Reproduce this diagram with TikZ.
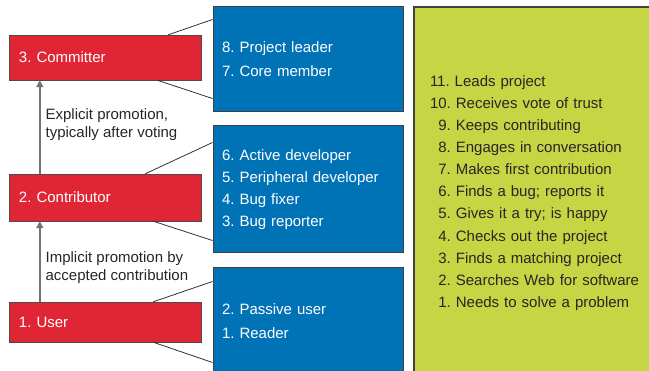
\documentclass[tikz,border=0pt]{standalone}
\usepackage{fontspec}
\setmainfont{Liberation Sans}
\usetikzlibrary{arrows.meta}
\definecolor{roleRed}{RGB}{224,38,52}
\definecolor{roleBlue}{RGB}{0,114,182}
\definecolor{stepGreen}{RGB}{198,213,68}
\frenchspacing

\begin{document}
\begin{tikzpicture}[x=1pt,y=-1pt]
    \tikzset{role/.style = {shape=rectangle, draw=black!70, fill=roleRed, text=white, minimum width=192pt,
        text width=172pt, inner xsep=10pt, align=left, font=\fontsize{15}{22}\selectfont}}
    \tikzset{kind/.style = {shape=rectangle, draw=black!75, line width=1pt, fill=roleBlue, text=white,
        minimum width=190pt, text width=172pt, inner xsep=9pt, align=left, font=\fontsize{15}{22}\selectfont}}
    \tikzset{steps/.style = {shape=rectangle, draw=black!75, line width=1.2pt, fill=stepGreen, text=black!85,
        minimum width=250pt, text width=218pt, inner xsep=16pt, align=left, font=\fontsize{15}{22.1}\selectfont}}
    \tikzset{link/.style = {draw=black!80, thick, -}}
    \tikzset{promote/.style = {draw=black!55, line width=1.6pt, -{Triangle[length=7pt,width=7pt]}, color=black!55}}
    \tikzset{promolabel/.style = {anchor=west, xshift=2pt, inner xsep=3pt, align=left, text=black!85,
        font=\fontsize{15}{18}\selectfont}}

    \clip (0,0) rectangle (649,371);

    % roles
    \node[role, minimum height=45pt] (committer) at (105,57.5) {3. Committer};
    \node[role, minimum height=47pt] (contributor) at (105,197.5) {2. Contributor};
    \node[role, minimum height=40pt] (user) at (105,322) {1. User};

    % kinds of members
    \node[kind, minimum height=105pt] (leaderbox) at (308,59.5) {8. Project leader\\[2pt]7. Core member};
    \node[kind, minimum height=127pt] (devbox) at (308,189.5)
        {6. Active developer\\5. Peripheral developer\\4. Bug fixer\\3. Bug reporter};
    \node[kind, minimum height=106pt] (readerbox) at (308,321) {2. Passive user\\[2pt]1. Reader};

    % steps
    \node[steps, minimum height=372pt] (stepsbox) at (539,193)
        {11. Leads project\\
         10. Receives vote of trust\\
         \phantom{1}9. Keeps contributing\\
         \phantom{1}8. Engages in conversation\\
         \phantom{1}7. Makes first contribution\\
         \phantom{1}6. Finds a bug; reports it\\
         \phantom{1}5. Gives it a try; is happy\\
         \phantom{1}4. Checks out the project\\
         \phantom{1}3. Finds a matching project\\
         \phantom{1}2. Searches Web for software\\
         \phantom{1}1. Needs to solve a problem};

    % edges
    \draw[link] ([xshift=-33pt]committer.north east) -- ([yshift=-13pt]leaderbox.north west);
    \draw[link] ([xshift=-44pt]committer.south east) -- ([yshift=14pt]leaderbox.south west);
    \draw[link] ([xshift=-56pt]contributor.north east) -- ([yshift=-17pt]devbox.north west);
    \draw[link] ([xshift=-48pt]contributor.south east) -- ([yshift=13pt]devbox.south west);
    \draw[link] ([xshift=-48pt]user.north east) -- ([yshift=-14pt]readerbox.north west);
    \draw[link] ([xshift=-48pt]user.south east) -- ([yshift=12pt]readerbox.south west);

    \draw[promote] ([xshift=31pt]contributor.north west) --
        node[promolabel, pos=0.53] (explicit) {Explicit promotion,\\typically after voting}
        ([xshift=31pt]committer.south west);
    \draw[promote] ([xshift=31pt]user.north west) --
        node[promolabel, pos=0.42] (implicit) {Implicit promotion by\\accepted contribution}
        ([xshift=31pt]contributor.south west);
\end{tikzpicture}
\end{document}
